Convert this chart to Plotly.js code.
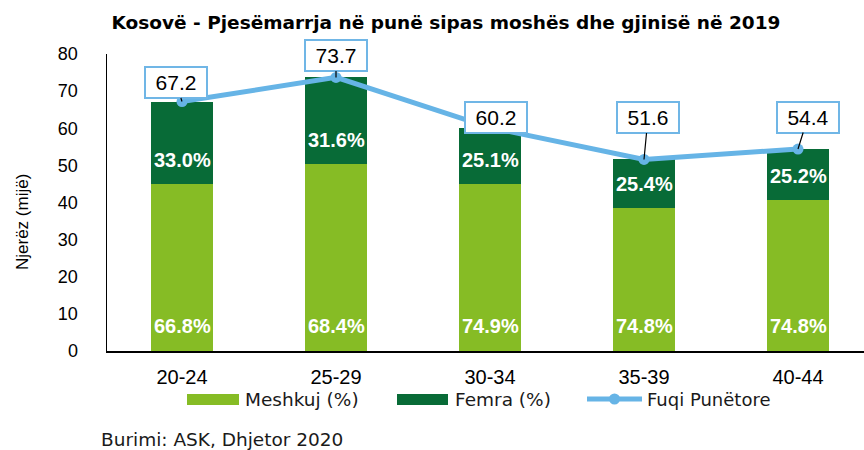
<!DOCTYPE html>
<html>
<head>
<meta charset="utf-8">
<script src="https://cdn.plot.ly/plotly-3.0.1.min.js"></script>
<style>html,body{margin:0;padding:0;background:#fff;}#chart{width:864px;height:450px;}</style>
</head>
<body>
<div id="chart"></div>
<script>
// ---- data ----
var categories = ["20-24", "25-29", "30-34", "35-39", "40-44"];
var laborForce = [67.2, 73.7, 60.2, 51.6, 54.4];      // Fuqi Punëtore (mijë)
var malePct = [66.8, 68.4, 74.9, 74.8, 74.8];         // Meshkuj (%)
var femalePct = [33.0, 31.6, 25.1, 25.4, 25.2];       // Femra (%)
var yTicks = [0, 10, 20, 30, 40, 50, 60, 70, 80];

// ---- styles ----
var LIGHT = "#86bc25", DARK = "#086b37", BLUE = "#66b4e6", BOXC = "#70b6e6";
var ARIAL = "Liberation Sans, Arial, sans-serif";
var VERD = "DejaVu Sans, Verdana, sans-serif";
var L = 107, T = 54, W = 757, H = 297;
function px(x) { return (x - L) / W; }
function py(y) { return (T + H - y) / H; }

var maleVals = laborForce.map(function (t, i) { return t * malePct[i] / 100; });
var femaleVals = laborForce.map(function (t, i) { return t * femalePct[i] / 100; });

var traces = [
  { type: "bar", x: categories, y: maleVals, name: "Meshkuj (%)", marker: { color: LIGHT }, width: 0.4, hoverinfo: "skip" },
  { type: "bar", x: categories, y: femaleVals, name: "Femra (%)", marker: { color: DARK }, width: 0.4, hoverinfo: "skip" },
  { type: "scatter", mode: "lines+markers", x: categories, y: laborForce, name: "Fuqi Punëtore",
    line: { color: BLUE, width: 5 }, marker: { color: BLUE, size: 11 }, hoverinfo: "skip" }
];

var annotations = [];
// percentage labels
categories.forEach(function (c, i) {
  annotations.push({ x: c, y: 0, xref: "x", yref: "y", text: malePct[i].toFixed(1) + "%", showarrow: false,
    yshift: 25, yanchor: "middle", font: { family: ARIAL, size: 20, color: "#ffffff", weight: "bold" } });
  annotations.push({ x: c, y: maleVals[i], xref: "x", yref: "y", text: femalePct[i].toFixed(1) + "%", showarrow: false,
    yshift: 24, yanchor: "middle", font: { family: ARIAL, size: 20, color: "#ffffff", weight: "bold" } });
});
// value callouts
var offAx = [-6, 0, 6, 4, 10];
var offAy = [-19, -22, -10, -42, -32];
categories.forEach(function (c, i) {
  annotations.push({ x: c, y: laborForce[i], xref: "x", yref: "y", text: laborForce[i].toFixed(1),
    showarrow: true, arrowhead: 0, arrowwidth: 1.2, arrowcolor: "#000000", ax: offAx[i], ay: offAy[i],
    bgcolor: "#ffffff", bordercolor: BOXC, borderwidth: 2, borderpad: 0, width: 60, height: 29,
    font: { family: ARIAL, size: 21, color: "#000000" } });
});
// y-axis title
annotations.push({ xref: "paper", yref: "paper", x: px(22), y: py(222), text: "Njerëz (mijë)", textangle: -90,
  showarrow: false, xanchor: "center", yanchor: "middle", font: { family: ARIAL, size: 17, color: "#000000" } });
// legend texts
annotations.push({ xref: "paper", yref: "paper", x: px(243), y: py(399.5), text: "Meshkuj (%)", showarrow: false,
  xanchor: "left", yanchor: "middle", font: { family: VERD, size: 18.5, color: "#1a1a1a" } });
annotations.push({ xref: "paper", yref: "paper", x: px(453), y: py(399.5), text: "Femra (%)", showarrow: false,
  xanchor: "left", yanchor: "middle", font: { family: VERD, size: 18.5, color: "#1a1a1a" } });
annotations.push({ xref: "paper", yref: "paper", x: px(645), y: py(399.5), text: "Fuqi Punëtore", showarrow: false,
  xanchor: "left", yanchor: "middle", font: { family: VERD, size: 18, color: "#1a1a1a" } });
// source
annotations.push({ xref: "paper", yref: "paper", x: px(99), y: py(439), text: "Burimi: ASK, Dhjetor 2020", showarrow: false,
  xanchor: "left", yanchor: "middle", font: { family: VERD, size: 18.5, color: "#1a1a1a" } });

var shapes = [
  { type: "rect", xref: "paper", yref: "paper", x0: px(187), x1: px(239), y0: py(405), y1: py(394), fillcolor: LIGHT, line: { width: 0 } },
  { type: "rect", xref: "paper", yref: "paper", x0: px(397), x1: px(448), y0: py(405), y1: py(394), fillcolor: DARK, line: { width: 0 } },
  { type: "line", xref: "paper", yref: "paper", x0: px(587), x1: px(642), y0: py(399), y1: py(399), line: { color: BLUE, width: 5 } },
  { type: "circle", xref: "paper", yref: "paper", x0: px(609), x1: px(620), y0: py(404.5), y1: py(393.5), fillcolor: BLUE, line: { width: 0 } }
];

var layout = {
  width: 864, height: 450,
  margin: { l: L, r: 864 - L - W, t: T, b: 450 - T - H, pad: 0 },
  paper_bgcolor: "#ffffff", plot_bgcolor: "#ffffff",
  barmode: "stack",
  showlegend: false,
  title: { text: "Kosovë - Pjesëmarrja në punë sipas moshës dhe gjinisë në 2019",
    x: 446 / 864, xanchor: "center", xref: "container", y: 1 - 23 / 450, yanchor: "middle", yref: "container",
    font: { family: VERD, size: 18.5, color: "#000000", weight: "bold" } },
  xaxis: { type: "category", range: [-75 / 154, -75 / 154 + W / 154], showgrid: false, zeroline: false,
    showline: true, linecolor: "#000000", linewidth: 2, ticks: "", ticklabelstandoff: 7,
    tickfont: { family: ARIAL, size: 20, color: "#000000" }, fixedrange: true },
  yaxis: { range: [0, 80], tickvals: yTicks, showgrid: false, zeroline: false, showline: true,
    linecolor: "#000000", linewidth: 1.5, ticks: "", ticklabelstandoff: 24,
    tickfont: { family: ARIAL, size: 18, color: "#000000" }, fixedrange: true },
  annotations: annotations,
  shapes: shapes
};

Plotly.newPlot("chart", traces, layout, { displayModeBar: false, staticPlot: true });
</script>
</body>
</html>
